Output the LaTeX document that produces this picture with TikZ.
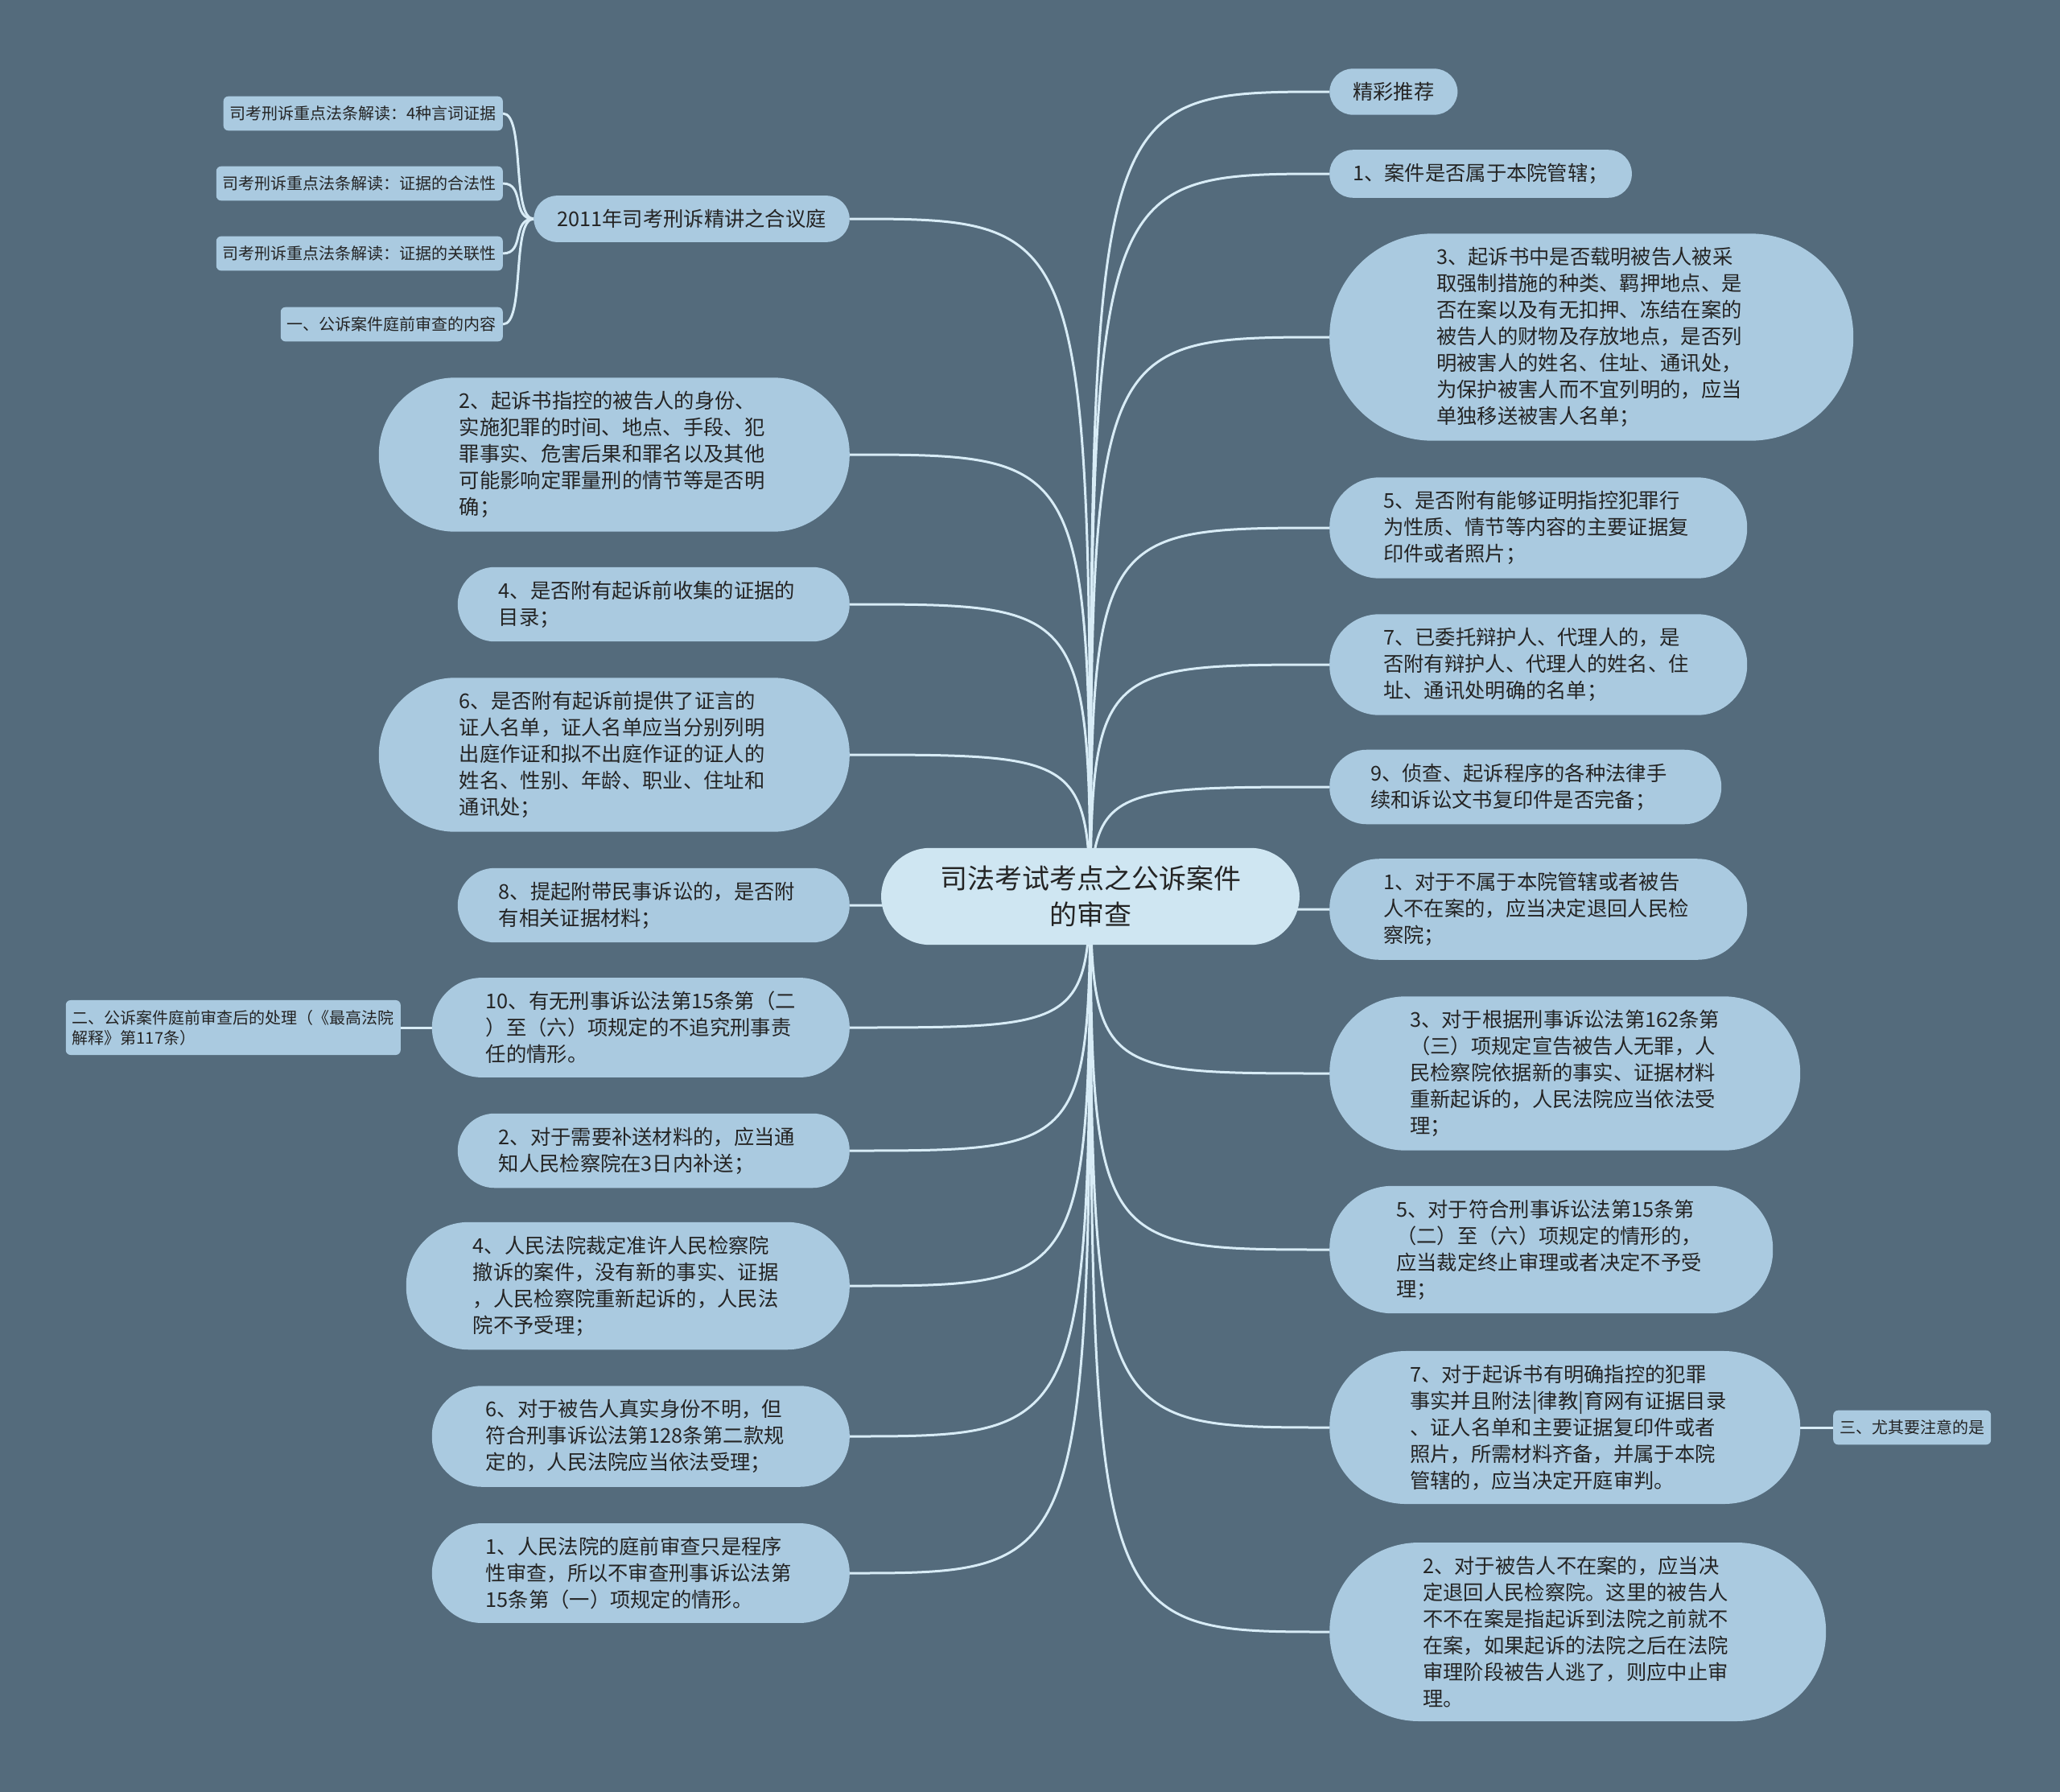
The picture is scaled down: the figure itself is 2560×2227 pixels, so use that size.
\documentclass[tikz,border=0pt]{standalone}
\usepackage{fontspec}
\setmainfont{Noto Sans CJK SC}
\usepackage{xcolor}
\definecolor{mmbg}{HTML}{546B7C}
\definecolor{mmtopicfill}{HTML}{AACAE0}
\definecolor{mmrootfill}{HTML}{CFE6F2}
\definecolor{mmline}{HTML}{D8ECF6}
\definecolor{mmtext}{HTML}{242424}
\usepackage{tikz}
\pgfdeclarelayer{mmback}
\pgfdeclarelayer{mmedge}
\pgfsetlayers{mmback,mmedge,main}
\tikzset{
  mmroot/.style={rectangle,rounded corners=61pt,fill=mmrootfill,text=mmtext,align=center,font=\fontsize{34}{45}\selectfont,inner xsep=73pt,inner ysep=22pt},
  mmtopic/.style={rectangle,rounded corners=#1,fill=mmtopicfill,text=mmtext,align=left,font=\fontsize{25.3}{33}\selectfont,inner xsep=#1,inner ysep=17pt},
  mmwide/.style={mmtopic=#1,text width=385pt,inner xsep=#1+5},
  mmleaf/.style={rectangle,rounded corners=6pt,fill=mmtopicfill,text=mmtext,align=left,font=\fontsize{20}{25}\selectfont,inner xsep=8pt,inner ysep=12pt},
  mmlink/.style={draw=mmline,line width=3pt},
}

\begin{document}
\begin{tikzpicture}[x=1pt,y=-1pt]
 % canvas
\begin{pgfonlayer}{mmback}
\fill[mmbg] (0,0) rectangle (2560,2227);
\end{pgfonlayer}
\useasboundingbox (0,0) rectangle (2560,2227);
\node[mmroot] (root) at (1355,1114) {司法考试考点之公诉案件\\的审查};
 % left branch
\node[mmtopic=29,anchor=east] (l1) at (1056,272) {2011年司考刑诉精讲之合议庭};
\node[mmwide=95,anchor=east] (l2) at (1056,565) {2、起诉书指控的被告人的身份、\\实施犯罪的时间、地点、手段、犯\\罪事实、危害后果和罪名以及其他\\可能影响定罪量刑的情节等是否明\\确；};
\node[mmwide=46,anchor=east] (l3) at (1056,751) {4、是否附有起诉前收集的证据的\\目录；};
\node[mmwide=95,anchor=east] (l4) at (1056,938) {6、是否附有起诉前提供了证言的\\证人名单，证人名单应当分别列明\\出庭作证和拟不出庭作证的证人的\\姓名、性别、年龄、职业、住址和\\通讯处；};
\node[mmwide=46,anchor=east] (l5) at (1056,1125) {8、提起附带民事诉讼的，是否附\\有相关证据材料；};
\node[mmwide=62,anchor=east] (l6) at (1056,1277) {10、有无刑事诉讼法第15条第（二\\）至（六）项规定的不追究刑事责\\任的情形。};
\node[mmwide=46,anchor=east] (l7) at (1056,1430) {2、对于需要补送材料的，应当通\\知人民检察院在3日内补送；};
\node[mmwide=78,anchor=east] (l8) at (1056,1598) {4、人民法院裁定准许人民检察院\\撤诉的案件，没有新的事实、证据\\，人民检察院重新起诉的，人民法\\院不予受理；};
\node[mmwide=62,anchor=east] (l9) at (1056,1785) {6、对于被告人真实身份不明，但\\符合刑事诉讼法第128条第二款规\\定的，人民法院应当依法受理；};
\node[mmwide=62,anchor=east] (l10) at (1056,1955) {1、人民法院的庭前审查只是程序\\性审查，所以不审查刑事诉讼法第\\15条第（一）项规定的情形。};
\node[mmleaf,anchor=east] (k1) at (625,141) {司考刑诉重点法条解读：4种言词证据};
\node[mmleaf,anchor=east] (k2) at (625,228) {司考刑诉重点法条解读：证据的合法性};
\node[mmleaf,anchor=east] (k3) at (625,315) {司考刑诉重点法条解读：证据的关联性};
\node[mmleaf,anchor=east] (k4) at (625,403) {一、公诉案件庭前审查的内容};
\node[mmleaf,anchor=east] (er) at (498,1277) {二、公诉案件庭前审查后的处理（《最高法院\\解释》第117条）};
 % right branch
\node[mmtopic=29,anchor=west] (r1) at (1652,114) {精彩推荐};
\node[mmtopic=29,anchor=west] (r2) at (1652,216) {1、案件是否属于本院管辖；};
\node[mmwide=128,anchor=west] (r3) at (1652,419) {3、起诉书中是否载明被告人被采\\取强制措施的种类、羁押地点、是\\否在案以及有无扣押、冻结在案的\\被告人的财物及存放地点，是否列\\明被害人的姓名、住址、通讯处，\\为保护被害人而不宜列明的，应当\\单独移送被害人名单；};
\node[mmwide=62,anchor=west] (r4) at (1652,656) {5、是否附有能够证明指控犯罪行\\为性质、情节等内容的主要证据复\\印件或者照片；};
\node[mmwide=62,anchor=west] (r5) at (1652,826) {7、已委托辩护人、代理人的，是\\否附有辩护人、代理人的姓名、住\\址、通讯处明确的名单；};
\node[mmwide=46,anchor=west] (r6) at (1652,978) {9、侦查、起诉程序的各种法律手\\续和诉讼文书复印件是否完备；};
\node[mmwide=62,anchor=west] (r7) at (1652,1130) {1、对于不属于本院管辖或者被告\\人不在案的，应当决定退回人民检\\察院；};
\node[mmwide=95,anchor=west] (r8) at (1652,1334) {3、对于根据刑事诉讼法第162条第\\（三）项规定宣告被告人无罪，人\\民检察院依据新的事实、证据材料\\重新起诉的，人民法院应当依法受\\理；};
\node[mmwide=78,anchor=west] (r9) at (1652,1553) {5、对于符合刑事诉讼法第15条第\\（二）至（六）项规定的情形的，\\应当裁定终止审理或者决定不予受\\理；};
\node[mmwide=95,anchor=west] (r10) at (1652,1774) {7、对于起诉书有明确指控的犯罪\\事实并且附法|律教|育网有证据目录\\、证人名单和主要证据复印件或者\\照片，所需材料齐备，并属于本院\\管辖的，应当决定开庭审判。};
\node[mmwide=111,anchor=west] (r11) at (1652,2028) {2、对于被告人不在案的，应当决\\定退回人民检察院。这里的被告人\\不不在案是指起诉到法院之前就不\\在案，如果起诉的法院之后在法院\\审理阶段被告人逃了，则应中止审\\理。};
\node[mmleaf,anchor=west] (san) at (2278,1774) {三、尤其要注意的是};
 % links
\begin{pgfonlayer}{mmedge}
\foreach \n in {l1,l2,l3,l4}
  \draw[mmlink] (root.south) .. controls (root.south |- \n.east) .. (\n.east);
\foreach \n in {l5,l6,l7,l8,l9,l10}
  \draw[mmlink] (root.north) .. controls (root.north |- \n.east) .. (\n.east);
\foreach \n in {r1,r2,r3,r4,r5,r6}
  \draw[mmlink] (root.south) .. controls (root.south |- \n.west) .. (\n.west);
\foreach \n in {r7,r8,r9,r10,r11}
  \draw[mmlink] (root.north) .. controls (root.north |- \n.west) .. (\n.west);
\foreach \n in {k1,k2,k3,k4}
  \draw[mmlink] (l1.west) .. controls +(-28,0) and +(28,0) .. (\n.east);
\draw[mmlink] (l6.west) -- (er.east);
\draw[mmlink] (r10.east) -- (san.west);
\end{pgfonlayer}
\end{tikzpicture}
\end{document}
